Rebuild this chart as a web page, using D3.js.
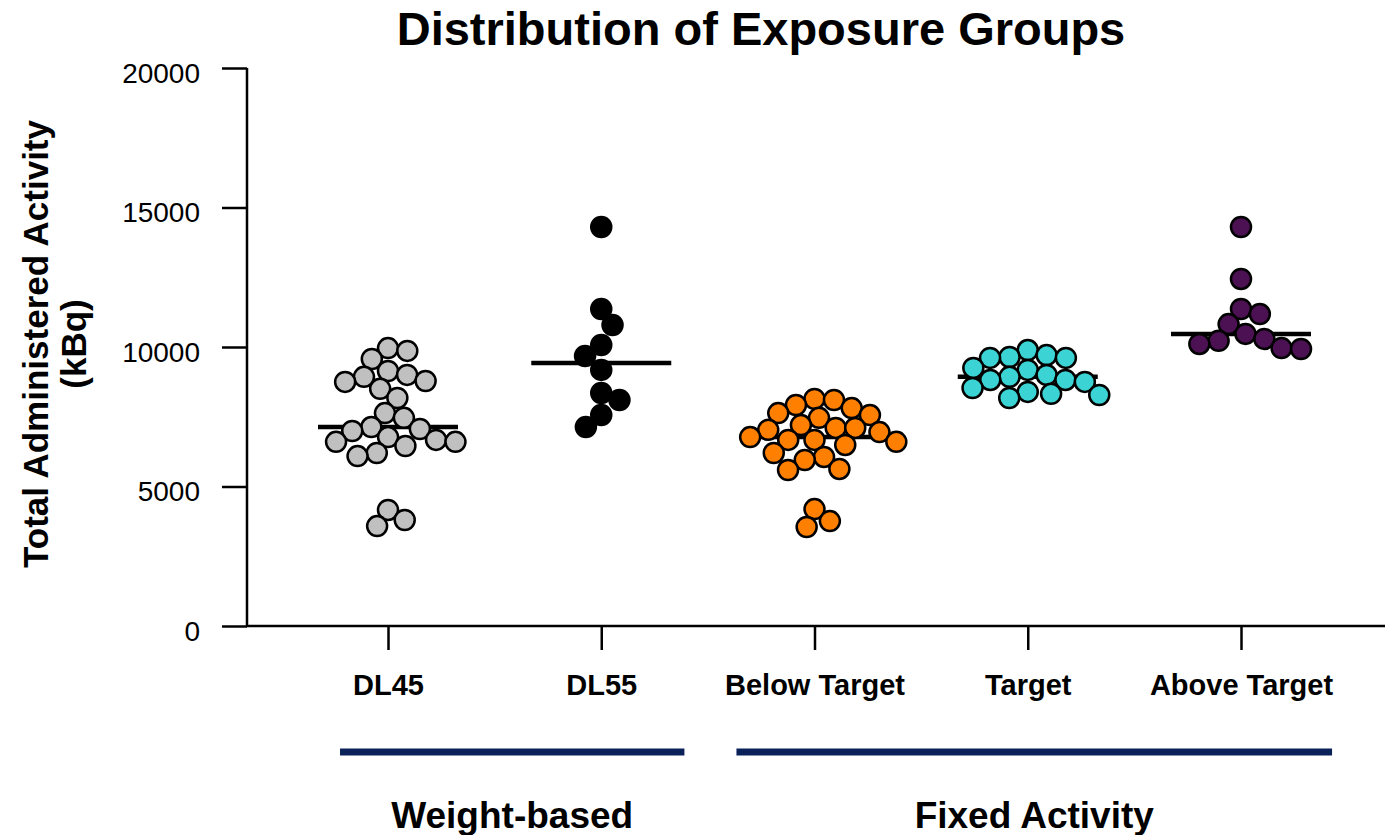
<!DOCTYPE html>
<html>
<head>
<meta charset="utf-8">
<script src="https://cdn.jsdelivr.net/npm/d3@7"></script>
<style>
  html, body { margin: 0; padding: 0; background: #fff; }
  svg { display: block; font-family: "Liberation Sans", Arial, sans-serif; }
</style>
</head>
<body>
<svg id="chart" width="1391" height="835"></svg>
<script>
// ---- data -------------------------------------------------------------
const categories = ["DL45", "DL55", "Below Target", "Target", "Above Target"];

const dl45 = [9960, 9860, 9570, 9140, 9000, 8930, 8780, 8750, 8500, 8170,
              7630, 7460, 7130, 7060, 6990, 6770, 6670, 6600, 6600, 6450,
              6200, 6090, 4160, 3800, 3580];
const dl55 = [14300, 11360, 10790, 10070, 9680, 9180, 8350, 8100, 7560, 7130];
const belowTarget = [8140, 8100, 7920, 7810, 7630, 7560, 7460, 7200, 7100, 7100,
                     7030, 6950, 6770, 6670, 6670, 6600, 6490, 6200, 6060, 5950,
                     5630, 5590, 4190, 3760, 3550];
const target = [9890, 9710, 9640, 9610, 9610, 9250, 9180, 9000, 8930, 8820,
                8820, 8750, 8530, 8390, 8320, 8280, 8170];
const aboveTarget = [14300, 12440, 11360, 11180, 10820, 10470, 10290, 10220,
                     10110, 9960, 9930];

const seriesValues = [dl45, dl55, belowTarget, target, aboveTarget];
const seriesColors = ["#c0c0c0", "#000000", "#ff8000", "#3bd3d3", "#4b1152"];

const yTicks = [0, 5000, 10000, 15000, 20000];

const groupNames = ["Weight-based", "Fixed Activity"];
const groupMembers = [["DL45", "DL55"], ["Below Target", "Target", "Above Target"]];

// ---- layout -----------------------------------------------------------
const FONT = "Liberation Sans, Arial, sans-serif";
const svg = d3.select("#chart");
const plotTop = 68, plotBottom = 626, axisX = 247, axisRight = 1385;

const y = d3.scaleLinear().domain([0, 20000]).range([plotBottom, plotTop]);
const x = d3.scalePoint().domain(categories).range([388, 1241]);

const R = 10;          // dot radius
const SEP = 19.5;      // centre spacing allowed between neighbouring dots
const MEDIAN_HALF = 70;

// Deterministic beeswarm: each dot keeps its y and takes the horizontal
// offset nearest the centre line that keeps it SEP away from placed dots.
function swarm(values) {
  const pts = values.map(v => ({ v, py: y(v) }))
    .sort((a, b) => a.py - b.py);
  const placed = [];
  let flip = 1;
  pts.forEach(p => {
    const blocks = [];
    placed.forEach(q => {
      const dy = Math.abs(q.py - p.py);
      if (dy < SEP) {
        const w = Math.sqrt(SEP * SEP - dy * dy);
        blocks.push([q.dx - w, q.dx + w]);
      }
    });
    const cands = [0];
    blocks.forEach(b => cands.push(b[0], b[1]));
    const ok = c => blocks.every(b => c <= b[0] + 1e-6 || c >= b[1] - 1e-6);
    let best = null;
    cands.filter(ok).forEach(c => {
      if (best === null || Math.abs(c) < Math.abs(best) - 1e-6 ||
          (Math.abs(Math.abs(c) - Math.abs(best)) < 1e-6 && Math.sign(c) === flip)) best = c;
    });
    if (best !== 0) flip = -flip;
    p.dx = best;
    placed.push(p);
  });
  return placed;
}

// ---- axes -------------------------------------------------------------
const yAxis = d3.axisLeft(y).tickValues(yTicks).tickSize(25).tickPadding(22)
  .tickFormat(d3.format("d"));
const gy = svg.append("g").attr("transform", `translate(${axisX},0)`).call(yAxis);
gy.select(".domain").attr("d", `M0,${plotTop}V${plotBottom}`);
gy.selectAll("line, path").attr("stroke", "#000").attr("stroke-width", 2.5);
gy.selectAll("text").attr("font-size", 28).attr("fill", "#000").attr("dy", "0.5em")
  .attr("font-family", FONT);

const xAxis = d3.axisBottom(x).tickSize(24).tickPadding(24);
const gx = svg.append("g").attr("transform", `translate(0,${plotBottom})`).call(xAxis);
gx.select(".domain").attr("d", `M${axisX},0H${axisRight}`);
gx.selectAll("line, path").attr("stroke", "#000").attr("stroke-width", 2.5);
gx.selectAll("text").attr("font-size", 29).attr("font-weight", "bold").attr("fill", "#000")
  .attr("font-family", FONT);

// ---- medians and dots -------------------------------------------------
categories.forEach((cat, i) => {
  const vals = seriesValues[i];
  const cx = x(cat);
  const med = d3.median(vals);
  const g = svg.append("g");
  g.append("line")
    .attr("x1", cx - MEDIAN_HALF).attr("x2", cx + MEDIAN_HALF)
    .attr("y1", y(med)).attr("y2", y(med))
    .attr("stroke", "#000").attr("stroke-width", 4.5);
  g.selectAll("circle").data(swarm(vals)).join("circle")
    .attr("cx", d => cx + d.dx)
    .attr("cy", d => d.py)
    .attr("r", R)
    .attr("fill", seriesColors[i])
    .attr("stroke", "#000")
    .attr("stroke-width", 2.5);
});

// ---- group brackets ---------------------------------------------------
const step = x.step();
const groupPad = [[0.225, 0.39], [0.366, 0.427]];
groupNames.forEach((name, gi) => {
  const members = groupMembers[gi];
  const x1 = x(members[0]) - groupPad[gi][0] * step;
  const x2 = x(members[members.length - 1]) + groupPad[gi][1] * step;
  svg.append("line").attr("x1", x1).attr("x2", x2)
    .attr("y1", 752).attr("y2", 752)
    .attr("stroke", "#0b2159").attr("stroke-width", 7);
  svg.append("text").attr("x", (x1 + x2) / 2).attr("y", 828)
    .attr("text-anchor", "middle").attr("font-size", 37).attr("font-weight", "bold")
    .attr("font-family", FONT)
    .text(name);
});

// ---- titles -----------------------------------------------------------
svg.append("text").attr("x", 761).attr("y", 45).attr("text-anchor", "middle")
  .attr("font-size", 47).attr("font-weight", "bold").attr("font-family", FONT)
  .text("Distribution of Exposure Groups");

const yLab = svg.append("text")
  .attr("transform", "translate(0,344) rotate(-90)")
  .attr("text-anchor", "middle").attr("font-size", 35).attr("font-weight", "bold")
  .attr("font-family", FONT);
yLab.append("tspan").attr("x", 0).attr("y", 48).text("Total Administered Activity");
yLab.append("tspan").attr("x", 0).attr("y", 86).text("(kBq)");
</script>
</body>
</html>
